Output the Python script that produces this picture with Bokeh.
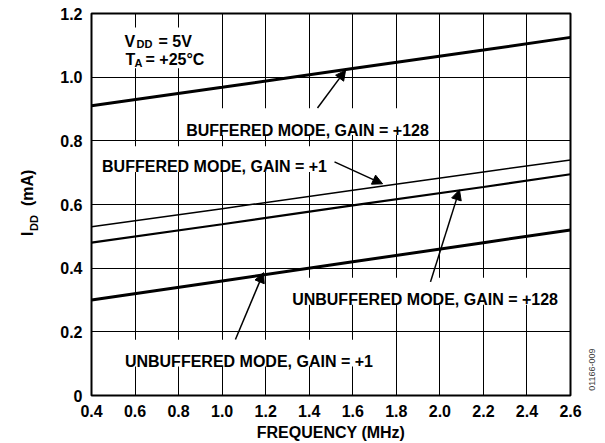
import math
from bokeh.plotting import figure
from bokeh.layouts import row
from bokeh.models import Range1d, FixedTicker, Label, BoxAnnotation, Arrow, NormalHead
from bokeh.embed import file_html
from bokeh.resources import INLINE

# ---- data ----
freq = [0.4, 1.0, 1.6, 2.2, 2.6]
idd_buf_128 = [0.91, 0.968, 1.027, 1.085, 1.125]
idd_buf_1 = [0.53, 0.587, 0.645, 0.702, 0.74]
idd_unbuf_128 = [0.48, 0.538, 0.597, 0.655, 0.695]
idd_unbuf_1 = [0.30, 0.36, 0.42, 0.48, 0.52]

x_ticks = [0.4, 0.6, 0.8, 1.0, 1.2, 1.4, 1.6, 1.8, 2.0, 2.2, 2.4, 2.6]
x_tick_labels = ["0.4", "0.6", "0.8", "1.0", "1.2", "1.4", "1.6", "1.8", "2.0", "2.2", "2.4", "2.6"]
y_ticks = [0, 0.2, 0.4, 0.6, 0.8, 1.0, 1.2]
y_tick_labels = ["0", "0.2", "0.4", "0.6", "0.8", "1.0", "1.2"]

FONT = "Liberation Sans"
FS = "16px"
SUB = "11px"
H = 443
TOP = 13
BOTTOM = 47
LEFT_W = 40
RIGHT_W = 20
MAIN_W = 605 - LEFT_W - RIGHT_W

p = figure(width=MAIN_W, height=H, output_backend="svg", toolbar_location=None,
           x_range=Range1d(0.4, 2.6), y_range=Range1d(0, 1.2),
           min_border_left=91 - LEFT_W, min_border_right=15,
           min_border_top=TOP, min_border_bottom=BOTTOM)
p.background_fill_color = "white"
p.border_fill_color = "white"
p.outline_line_color = "black"
p.outline_line_width = 2
p.outline_line_alpha = 1

for ax, ticks, labels in ((p.xaxis[0], x_ticks, x_tick_labels), (p.yaxis[0], y_ticks, y_tick_labels)):
    ax.ticker = FixedTicker(ticks=ticks)
    ax.major_label_overrides = dict(zip(ticks, labels))
    ax.axis_line_color = None
    ax.major_tick_line_color = None
    ax.minor_tick_line_color = None
    ax.major_tick_out = 0
    ax.major_tick_in = 0
    ax.major_label_standoff = 9
    ax.major_label_text_font = FONT
    ax.major_label_text_font_size = FS
    ax.major_label_text_font_style = "bold"
    ax.major_label_text_color = "black"

p.xaxis.axis_label = "FREQUENCY (MHz)"
p.xaxis.axis_label_text_font = FONT
p.xaxis.axis_label_text_font_size = FS
p.xaxis.axis_label_text_font_style = "bold"
p.xaxis.axis_label_text_color = "black"
p.xaxis.axis_label_standoff = 4

p.xgrid.ticker = FixedTicker(ticks=x_ticks)
p.ygrid.ticker = FixedTicker(ticks=y_ticks)
for g in (p.xgrid[0], p.ygrid[0]):
    g.grid_line_color = "black"
    g.grid_line_width = 1
    g.grid_line_alpha = 1

# ---- data lines ----
p.line(freq, idd_buf_128, line_color="black", line_width=3)
p.line(freq, idd_buf_1, line_color="black", line_width=1.5)
p.line(freq, idd_unbuf_128, line_color="black", line_width=2.2)
p.line(freq, idd_unbuf_1, line_color="black", line_width=3)

# ---- white boxes behind the labels (they break the grid) ----
boxes = [
    (0.524, 0.947, 1.028, 1.156),
    (0.813, 1.971, 0.818, 0.902),
    (0.428, 1.502, 0.702, 0.783),
    (1.296, 2.568, 0.285, 0.370),
    (0.533, 1.714, 0.091, 0.175),
]
for l, r, b, t in boxes:
    p.add_layout(BoxAnnotation(left=l, right=r, bottom=b, top=t, fill_color="white",
                               fill_alpha=1, line_color=None, level="annotation"))

def lab(fig, x, y, text, size=FS, align="left", baseline="alphabetic", angle=0.0,
        style="bold", color="black"):
    fig.add_layout(Label(x=x, y=y, text=text, text_font=FONT, text_font_size=size,
                         text_font_style=style, text_color=color, text_align=align,
                         text_baseline=baseline, angle=angle))

lab(p, 1.392, 0.833, "BUFFERED MODE, GAIN = +128", align="center")
lab(p, 0.965, 0.718, "BUFFERED MODE, GAIN = +1", align="center")
lab(p, 1.932, 0.301, "UNBUFFERED MODE, GAIN = +128", align="center")
lab(p, 1.123, 0.1065, "UNBUFFERED MODE, GAIN = +1", align="center")

# V_DD = 5V / T_A = +25°C
lab(p, 0.552, 1.112, "V")
lab(p, 0.607, 1.103, "DD", size=SUB)
lab(p, 0.708, 1.112, "= 5V")
lab(p, 0.556, 1.056, "T")
lab(p, 0.597, 1.046, "A", size=SUB)
lab(p, 0.648, 1.056, "= +25°C")

# ---- arrows ----
arrows = [
    (1.438, 0.903, 1.567, 1.022),
    (1.516, 0.734, 1.737, 0.665),
    (1.957, 0.357, 2.090, 0.646),
    (1.061, 0.176, 1.190, 0.386),
]
for xs, ys, xe, ye in arrows:
    p.add_layout(Arrow(end=NormalHead(size=10, fill_color="black", line_color="black", line_width=1),
                       x_start=xs, y_start=ys, x_end=xe, y_end=ye,
                       line_color="black", line_width=1.5))

# ---- side strips for texts outside the plot frame ----
# their frames line up with the main frame; data y = page y counted from the bottom
def strip(w):
    f = figure(width=w, height=H, output_backend="svg", toolbar_location=None,
               x_range=Range1d(0, w), y_range=Range1d(BOTTOM, H - TOP),
               x_axis_location=None, y_axis_location=None,
               min_border_left=0, min_border_right=0,
               min_border_top=TOP, min_border_bottom=BOTTOM)
    f.grid.visible = False
    f.outline_line_color = None
    f.background_fill_color = "white"
    f.border_fill_color = "white"
    return f

left = strip(LEFT_W)
lab(left, 27, H - 236, "I", angle=math.pi / 2)
lab(left, 33, H - 231, "DD", size=SUB, angle=math.pi / 2)
lab(left, 27, H - 206, "(mA)", angle=math.pi / 2)

right = strip(RIGHT_W)
lab(right, 6, H - 370, "01166-009", size="9px", align="center", baseline="middle",
    angle=math.pi / 2, style="normal", color="#404040")

layout = row(left, p, right)
open("out.html", "w").write(file_html(layout, INLINE, title="IDD vs Frequency"))
